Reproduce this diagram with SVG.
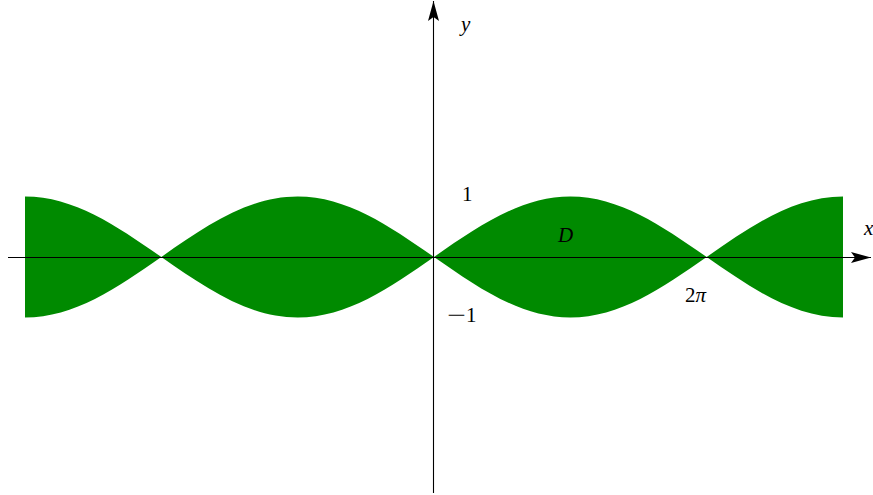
<svg xmlns="http://www.w3.org/2000/svg" width="873" height="495" viewBox="0 0 873 495">
<style>
.lbl{font-family:"Liberation Serif","Times New Roman",serif;font-size:21px;fill:#000}
.it{font-style:italic}
.axis{stroke:#000;stroke-width:1.1;fill:none}
</style>
<defs>
<marker id="arr" viewBox="0 0 20 12" refX="20" refY="6" markerWidth="20" markerHeight="12" markerUnits="userSpaceOnUse" orient="auto">
<path d="M0,0.5 L20,6 L0,11.5 L4,6 Z" fill="#000"/>
</marker>
</defs>
<g id="region">
<path fill="#008a00" d="M25,196.5 C74.34,196.5 116.87,226 161.33,257 C205.79,226 248.32,196.5 297.67,196.5 C347.01,196.5 389.54,226 434,257 C478.46,226 520.99,196.5 570.33,196.5 C619.67,196.5 662.2,226 706.67,257 C751.13,226 793.66,196.5 843,196.5 L843,317.5 C793.66,317.5 751.13,288 706.67,257 C662.2,288 619.67,317.5 570.33,317.5 C520.99,317.5 478.46,288 434,257 C389.54,288 347.01,317.5 297.67,317.5 C248.32,317.5 205.79,288 161.33,257 C116.87,288 74.34,317.5 25,317.5 Z"/>
</g>
<g id="connectors">
<line class="axis" x1="8" y1="257.5" x2="871" y2="257.5" marker-end="url(#arr)"/>
<line class="axis" x1="433.5" y1="493" x2="433.5" y2="1" marker-end="url(#arr)"/>
</g>
<g id="labels">
<text class="lbl it" x="461" y="31">y</text>
<text class="lbl it" x="864" y="235">x</text>
<text class="lbl" x="462" y="201">1</text>
<text class="lbl" transform="translate(447,322) scale(1.6,1)" x="0" y="0">−</text>
<text class="lbl" x="466" y="322">1</text>
<text class="lbl it" x="558" y="242">D</text>
<text class="lbl" x="685" y="302">2<tspan class="it">π</tspan></text>
</g>
</svg>
